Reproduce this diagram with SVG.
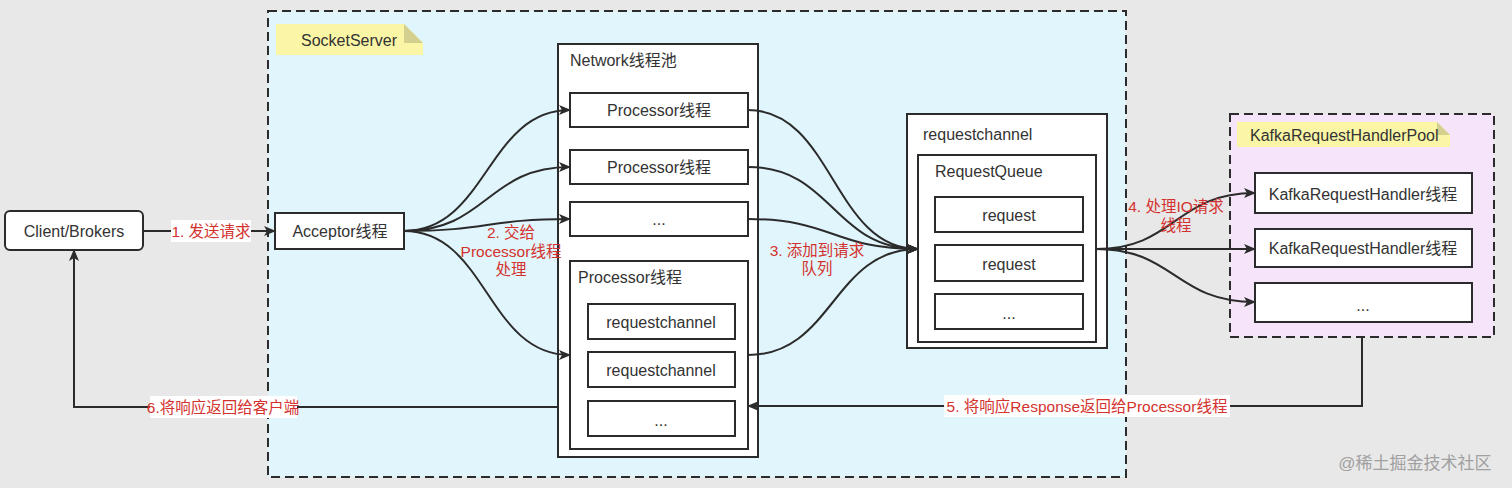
<svg xmlns="http://www.w3.org/2000/svg" width="1512" height="488" viewBox="0 0 1512 488">
<defs>
<marker id="ah" markerWidth="12" markerHeight="10" refX="11" refY="5" orient="auto" markerUnits="userSpaceOnUse">
<path d="M0,0 L12,5 L0,10 L3,5 Z" fill="#2b2b2b"/>
</marker>
<style>
text{font-family:"Liberation Sans","Noto Sans CJK SC",sans-serif;font-size:16px;fill:#333}
.box{fill:#fff;stroke:#2b2b2b;stroke-width:2}
.grp{stroke:#2b2b2b;stroke-width:2;stroke-dasharray:9 5}
.c{text-anchor:middle;dominant-baseline:central}
.l{dominant-baseline:central}
.red{fill:#d3322e;font-size:15.5px;text-anchor:middle;dominant-baseline:central}
.edge{fill:none;stroke:#2b2b2b;stroke-width:2}
.note{fill:#faf6a6}
.fold{fill:#d3cf8f}
</style>
</defs>
<rect width="1512" height="488" fill="#e8e8e8"/>

<g id="socketserver">
<rect class="grp" x="268" y="11" width="858" height="466" fill="#e1f5fc"/>
<path class="note" d="M276,24 H404 L423,43 V55 H276 Z"/>
<path class="fold" d="M404,24 L423,43 H404 Z"/>
<text class="l" x="301" y="40">SocketServer</text>
</g>

<g id="handlerpool">
<rect class="grp" x="1230" y="114" width="264" height="223" fill="#f6e4fa"/>
<path class="note" d="M1237,122 H1437 L1450,135 V147 H1237 Z"/>
<path class="fold" d="M1437,122 L1450,135 H1437 Z"/>
<text class="l" x="1250" y="135">KafkaRequestHandlerPool</text>
</g>

<g id="client">
<rect class="box" x="5" y="211" width="138" height="39" rx="5"/>
<text class="c" x="74" y="231">Client/Brokers</text>
</g>

<g id="acceptor">
<rect class="box" x="275" y="213" width="129" height="36"/>
<text class="c" x="340" y="231">Acceptor线程</text>
</g>

<g id="networkpool">
<rect class="box" x="558" y="44" width="200" height="413"/>
<text class="l" x="570" y="60">Network线程池</text>
</g>
<g id="processor1">
<rect class="box" x="570" y="93" width="178" height="34"/>
<text class="c" x="659" y="110">Processor线程</text>
</g>
<g id="processor2">
<rect class="box" x="570" y="150" width="178" height="34"/>
<text class="c" x="659" y="167">Processor线程</text>
</g>
<g id="processor3">
<rect class="box" x="570" y="202" width="178" height="34"/>
<text class="c" x="659" y="219">...</text>
</g>
<g id="processor4">
<rect class="box" x="570" y="261" width="178" height="188"/>
<text class="l" x="578" y="277">Processor线程</text>
</g>
<g id="rc1">
<rect class="box" x="588" y="304" width="147" height="35"/>
<text class="c" x="661" y="322">requestchannel</text>
</g>
<g id="rc2">
<rect class="box" x="588" y="352" width="147" height="35"/>
<text class="c" x="661" y="370">requestchannel</text>
</g>
<g id="rc3">
<rect class="box" x="588" y="401" width="147" height="35"/>
<text class="c" x="661" y="420">...</text>
</g>

<g id="requestchannel">
<rect class="box" x="907" y="114" width="200" height="234"/>
<text class="l" x="923" y="134">requestchannel</text>
</g>
<g id="requestqueue">
<rect class="box" x="918" y="155" width="178" height="187"/>
<text class="l" x="935" y="171">RequestQueue</text>
</g>
<g id="request1">
<rect class="box" x="935" y="197" width="148" height="35"/>
<text class="c" x="1009" y="215">request</text>
</g>
<g id="request2">
<rect class="box" x="935" y="245" width="148" height="36"/>
<text class="c" x="1009" y="264">request</text>
</g>
<g id="request3">
<rect class="box" x="935" y="294" width="148" height="35"/>
<text class="c" x="1009" y="313">...</text>
</g>

<g id="handler1">
<rect class="box" x="1255" y="173" width="217" height="40"/>
<text class="c" x="1363" y="194">KafkaRequestHandler线程</text>
</g>
<g id="handler2">
<rect class="box" x="1255" y="229" width="217" height="38"/>
<text class="c" x="1363" y="248">KafkaRequestHandler线程</text>
</g>
<g id="handler3">
<rect class="box" x="1255" y="283" width="217" height="39"/>
<text class="c" x="1363" y="305">...</text>
</g>

<g id="connectors">
<path class="edge" d="M143,231 H275" marker-end="url(#ah)"/>
<path class="edge" d="M404,231 C487,231 487,110 570,110" marker-end="url(#ah)"/>
<path class="edge" d="M404,231 C487,231 487,167 570,167" marker-end="url(#ah)"/>
<path class="edge" d="M404,231 C487,231 487,219 570,219" marker-end="url(#ah)"/>
<path class="edge" d="M404,231 C487,231 487,355 570,355" marker-end="url(#ah)"/>
<path class="edge" d="M748,110 C833,110 833,249 918,249" marker-end="url(#ah)"/>
<path class="edge" d="M748,167 C833,167 833,249 918,249" marker-end="url(#ah)"/>
<path class="edge" d="M748,219 C833,219 833,249 918,249" marker-end="url(#ah)"/>
<path class="edge" d="M748,355 C833,355 833,249 918,249" marker-end="url(#ah)"/>
<path class="edge" d="M1096,249 C1175,249 1175,193 1255,193" marker-end="url(#ah)"/>
<path class="edge" d="M1096,249 H1255" marker-end="url(#ah)"/>
<path class="edge" d="M1096,249 C1175,249 1175,302 1255,302" marker-end="url(#ah)"/>
<path class="edge" d="M1362,337 V406 H748" marker-end="url(#ah)"/>
<path class="edge" d="M558,407 H74 V250" marker-end="url(#ah)"/>

<rect x="171" y="220" width="80" height="22" fill="#fff"/>
<text class="red" x="211" y="231">1. 发送请求</text>
<text class="red" x="511" y="232">2. 交给</text>
<text class="red" x="511" y="251">Processor线程</text>
<text class="red" x="511" y="269">处理</text>
<text class="red" x="817" y="250">3. 添加到请求</text>
<text class="red" x="817" y="268">队列</text>
<text class="red" x="1176" y="206">4. 处理IO请求</text>
<text class="red" x="1176" y="225">线程</text>
<rect x="944" y="395" width="286" height="22" fill="#fff"/>
<text class="red" x="1087" y="406">5. 将响应Response返回给Processor线程</text>
<rect x="150" y="396" width="147" height="22" fill="#fff"/>
<text class="red" x="223" y="407">6.将响应返回给客户端</text>
</g>

<text x="1415" y="463" class="c" style="fill:#a0a0a0;font-size:17px">@稀土掘金技术社区</text>
</svg>
